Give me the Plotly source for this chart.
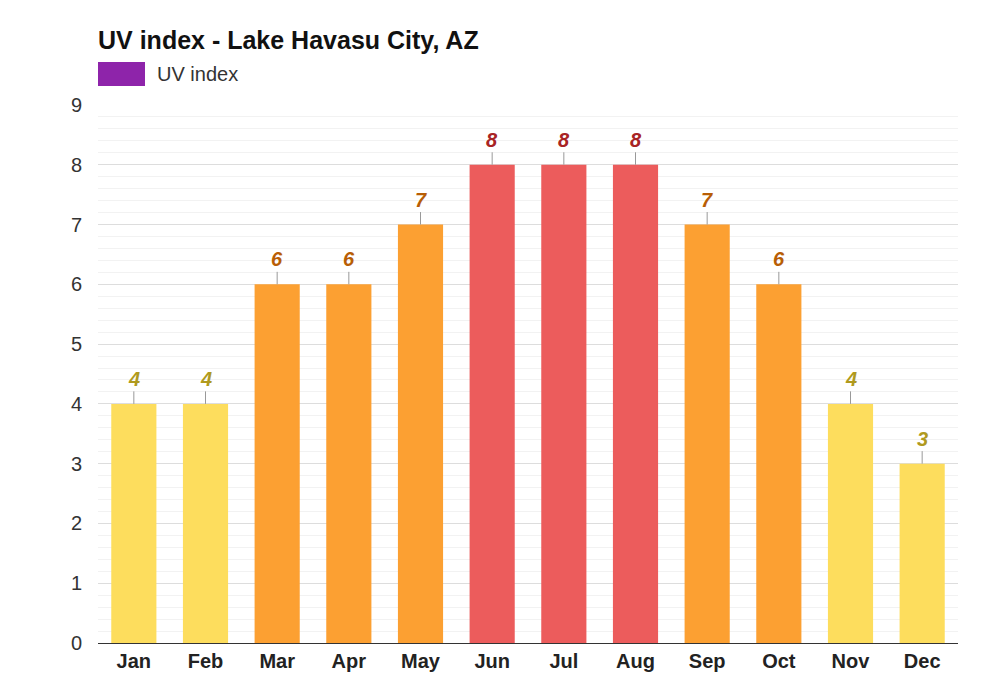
import plotly.graph_objects as go

months = ["Jan","Feb","Mar","Apr","May","Jun","Jul","Aug","Sep","Oct","Nov","Dec"]
uv = [4,4,6,6,7,8,8,8,7,6,4,3]
legend_label = "UV index"

def bar_color(v):
    if v >= 8: return "#ec5c5c"
    if v >= 6: return "#fca032"
    return "#fddd5d"
def label_color(v):
    if v >= 8: return "#a82424"
    if v >= 6: return "#b85e05"
    return "#b09a1e"

fig = go.Figure()
fig.add_trace(go.Bar(x=months, y=uv, marker_color=[bar_color(v) for v in uv],
                     showlegend=False, hoverinfo="x+y"))

for m, v in zip(months, uv):
    fig.add_annotation(x=m, y=v, text=f"<b><i>{v}</i></b>", showarrow=True, arrowhead=0,
                       arrowwidth=1, arrowcolor="#999", ax=0, ay=-25,
                       font=dict(size=20, color=label_color(v), family="Arial, Liberation Sans"))

# legend swatch + label
fig.add_shape(type="rect", xref="paper", yref="paper", x0=0, x1=47/860, y0=1+(643-62-538)/538 , y1=1+(643-86-538)/538,
              fillcolor="#8e24aa", line_width=0)
fig.add_annotation(xref="paper", yref="paper", x=57/860, y=1+(643-74-538)/538, text=legend_label,
                   showarrow=False, xanchor="left", yanchor="middle",
                   font=dict(size=20, color="#333"))

fig.update_layout(
    width=1000, height=700, template="none", plot_bgcolor="white", paper_bgcolor="white",
    font=dict(family="Arial, Liberation Sans", color="#333"),
    title=dict(text="<b>UV index - Lake Havasu City, AZ</b>", x=0.09, xanchor="left",
               yref="container", y=1-32/700, yanchor="middle",
               font=dict(size=25, color="#111")),
    margin=dict(l=90, r=50, t=97, b=65, autoexpand=False),
    bargap=0.37, showlegend=False,
    xaxis=dict(tickfont=dict(size=20, color="#222"),
               showgrid=False, showline=True, linecolor="#333", linewidth=1,
               tickprefix="<b>", ticksuffix="</b>", ticks=""),
    yaxis=dict(range=[0, 9], dtick=1, tickfont=dict(size=20, color="#333"),
               gridcolor="#ddd", gridwidth=1, zeroline=False, ticks="", ticklabelstandoff=15,
               minor=dict(dtick=0.2, showgrid=True, gridcolor="#f2f2f2", gridwidth=1)),
)
fig.write_html("out.html")
